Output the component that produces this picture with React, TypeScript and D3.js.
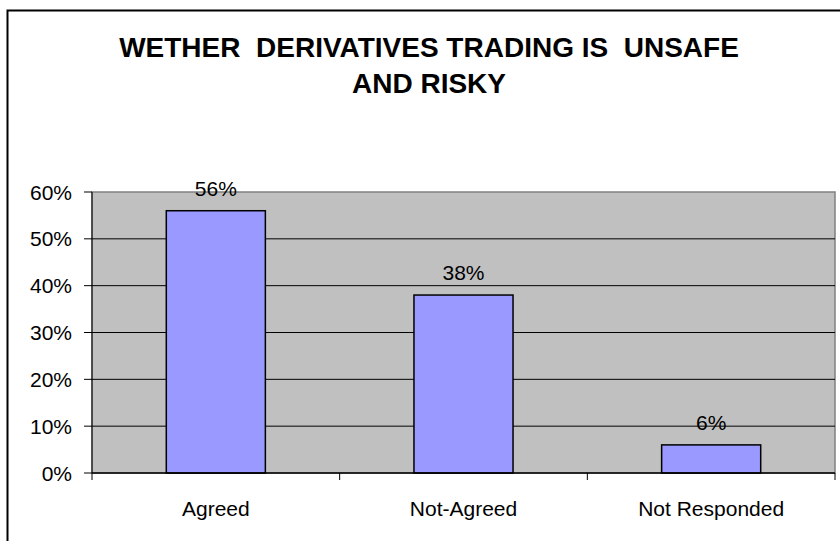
import * as d3 from 'd3';

const categories = ['Agreed', 'Not-Agreed', 'Not Responded'];
const values = [0.56, 0.38, 0.06];
const yTicks = [0, 0.1, 0.2, 0.3, 0.4, 0.5, 0.6];
const titleLines = ['WETHER  DERIVATIVES TRADING IS  UNSAFE', 'AND RISKY'];

const font = '"Liberation Sans", Arial, sans-serif';

export default function App() {
  const W = 840;
  const H = 541;
  const plot = { left: 92, right: 835, top: 192, bottom: 473 };

  const x = d3
    .scaleBand<string>()
    .domain(categories)
    .range([plot.left, plot.right])
    .paddingInner(0.6)
    .paddingOuter(0.3);

  const y = d3.scaleLinear().domain([0, 0.6]).range([plot.bottom, plot.top]);
  const pct = d3.format('.0%');

  // category boundaries for the x-axis tick marks
  const bandEdges = d3
    .range(categories.length + 1)
    .map((i) => plot.left + i * ((plot.right - plot.left) / categories.length));

  return (
    <svg width={W} height={H} style={{ position: 'absolute', left: 0, top: 0, background: '#fff' }}>
      {/* chart frame */}
      <rect x={7.5} y={10.5} width={900} height={600} fill="#fff" stroke="#000" strokeWidth={2} />

      {/* title */}
      {titleLines.map((t, i) => (
        <text
          key={i}
          x={429}
          y={57 + i * 36}
          textAnchor="middle"
          fontFamily={font}
          fontWeight="bold"
          fontSize={28}
          style={{ whiteSpace: 'pre' }}
        >
          {t}
        </text>
      ))}

      {/* plot area */}
      <rect
        x={plot.left}
        y={plot.top}
        width={plot.right - plot.left}
        height={plot.bottom - plot.top}
        fill="#C0C0C0"
        stroke="#808080"
        strokeWidth={1.5}
      />

      {/* gridlines */}
      {yTicks.slice(1, -1).map((t) => (
        <line key={t} x1={plot.left} x2={plot.right} y1={y(t)} y2={y(t)} stroke="#000" strokeWidth={1} />
      ))}

      {/* y axis */}
      <line x1={plot.left} x2={plot.left} y1={plot.top} y2={plot.bottom} stroke="#000" strokeWidth={1} />
      {yTicks.map((t) => (
        <g key={t}>
          <line x1={plot.left - 8} x2={plot.left} y1={y(t)} y2={y(t)} stroke="#000" strokeWidth={1} />
          <text x={72} y={y(t) + 7.5} textAnchor="end" fontFamily={font} fontSize={21} fill="#000">
            {pct(t)}
          </text>
        </g>
      ))}

      {/* bars */}
      {categories.map((c, i) => (
        <g key={c}>
          <rect
            x={x(c)}
            y={y(values[i])}
            width={x.bandwidth()}
            height={plot.bottom - y(values[i])}
            fill="#9999FF"
            stroke="#000"
            strokeWidth={1.5}
          />
          <text
            x={(x(c) ?? 0) + x.bandwidth() / 2}
            y={y(values[i]) - 15}
            textAnchor="middle"
            fontFamily={font}
            fontSize={21}
            fill="#000"
          >
            {pct(values[i])}
          </text>
        </g>
      ))}

      {/* x axis */}
      <line x1={plot.left} x2={plot.right} y1={plot.bottom} y2={plot.bottom} stroke="#000" strokeWidth={1.5} />
      {bandEdges.map((e, i) => (
        <line key={i} x1={e} x2={e} y1={plot.bottom} y2={plot.bottom + 7} stroke="#000" strokeWidth={1} />
      ))}
      {categories.map((c) => (
        <text
          key={c}
          x={(x(c) ?? 0) + x.bandwidth() / 2}
          y={516}
          textAnchor="middle"
          fontFamily={font}
          fontSize={21}
          fill="#000"
        >
          {c}
        </text>
      ))}
    </svg>
  );
}
